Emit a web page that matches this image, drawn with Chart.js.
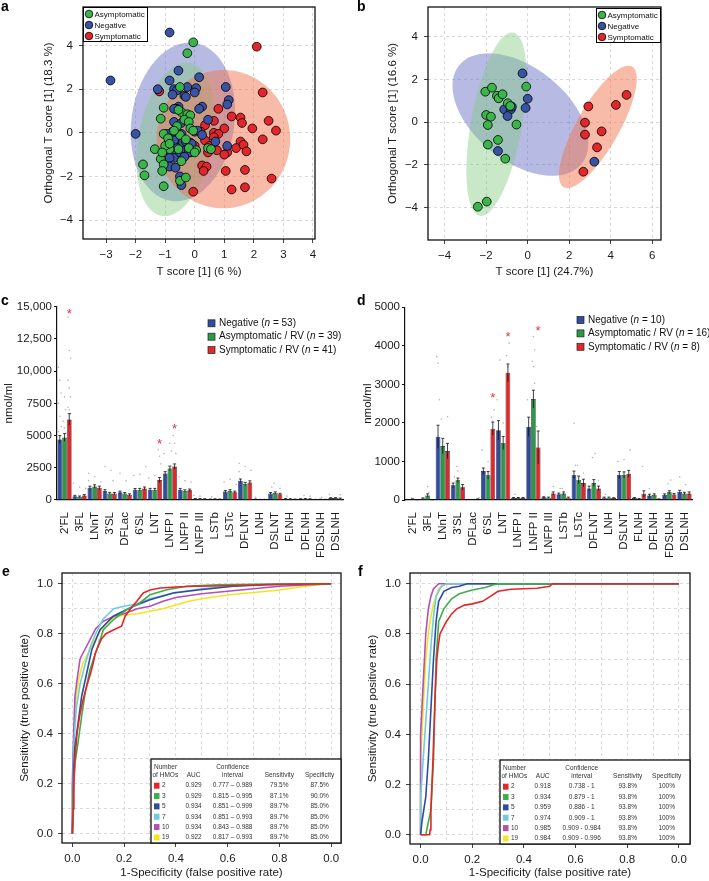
<!DOCTYPE html>
<html>
<head>
<meta charset="utf-8">
<script src="https://cdn.jsdelivr.net/npm/chart.js@4.4.1/dist/chart.umd.min.js"></script>
<style>
  body { margin: 0; background: #fff; }
  #page { position: relative; width: 709px; height: 881px; overflow: hidden; background: #fff; }
  #page canvas { position: absolute; left: 0; top: 0; }
  .tag { position: absolute; font: bold 14px "Liberation Sans", Arial, sans-serif; color: #000; }
</style>
</head>
<body>
<div id="page">
  <canvas id="chartA" width="709" height="881"></canvas>
  <canvas id="chartB" width="709" height="881"></canvas>
  <canvas id="chartC" width="709" height="881"></canvas>
  <canvas id="chartD" width="709" height="881"></canvas>
  <canvas id="chartE" width="709" height="881"></canvas>
  <canvas id="chartF" width="709" height="881"></canvas>
  <div class="tag" style="left:1px;top:-2px">a</div>
  <div class="tag" style="left:357px;top:-2px">b</div>
  <div class="tag" style="left:1px;top:292px">c</div>
  <div class="tag" style="left:357px;top:292px">d</div>
  <div class="tag" style="left:2px;top:563px">e</div>
  <div class="tag" style="left:358px;top:563px">f</div>
</div>
<script>
const FONT = '"Liberation Sans", Arial, Helvetica, sans-serif';
Chart.defaults.font.family = FONT;
Chart.defaults.font.size = 11.5;
Chart.defaults.color = '#1a1a1a';
Chart.defaults.animation = false;
Chart.defaults.responsive = false;
Chart.defaults.plugins.legend.display = false;
Chart.defaults.plugins.tooltip.enabled = false;

// ---------- panel a : OPLS-DA scores (all) ----------
const groupNames = ['Asymptomatic', 'Negative', 'Symptomatic'];
const aAsym = [[-0.05,4.15],[-0.25,3.65],[-1.05,1.15],[-1.15,0.65],[-1.05,-0.05],[-1.35,-0.75],[-1.15,-1.2],[-1.05,-1.45],
  [-1.75,-1.45],[-1.7,-1.95],[-1.1,-1.75],[-1.05,-2.45],[-0.5,2.1],[-0.45,0.95],[-0.25,0.85],[-0.15,0.8],[-0.35,0.6],
  [-0.2,0.5],[-0.15,0.2],[-0.05,0.1],[-0.5,-0.1],[-0.9,-0.25],[-0.3,-0.3],[-0.55,-0.75],[-0.85,-0.75],[-1.0,-0.6],
  [0.05,-0.8],[0.45,-0.7],[0.55,-0.75],[-0.5,-2.2],[-0.3,-2.05],[-0.45,-1.3],[-0.2,-0.7],[0.0,-0.9],[-0.6,0.3],
  [-0.85,-0.5],[-0.55,1.05],[-0.7,0.1],[-1.1,-0.9]];
const aNeg = [[-0.85,4.6],[-2.85,2.4],[-2.0,-0.05],[-0.55,2.85],[-0.85,2.4],[0.15,2.55],[-0.25,2.1],[0.05,2.05],[-0.7,2.0],
  [-0.6,1.95],[-0.75,1.75],[-0.35,1.7],[-0.3,1.65],[0.0,1.85],[-1.25,2.0],[1.05,2.1],[1.15,1.5],[1.1,1.3],[0.25,1.2],
  [0.15,1.1],[-0.55,1.2],[-0.6,1.1],[-0.7,1.1],[0.45,0.6],[-0.7,0.5],[-0.45,0.45],[-0.75,0.05],[-0.55,0.0],[-0.45,-0.05],
  [-0.7,-0.35],[-0.4,-0.45],[-0.3,-0.4],[-0.15,-0.45],[-0.8,-0.65],[-0.6,-0.7],[-0.9,-0.8],[-0.65,-0.95],[-0.7,-1.15],
  [-0.85,-1.15],[-0.5,-0.9],[-0.3,-0.8],[-0.85,-1.55],[-0.65,-1.6],[-0.5,-2.0],[-0.45,-2.4],[0.7,-0.4],[1.1,-0.6],
  [-0.1,-0.5],[-0.2,-0.9],[0.1,0.1],[-0.35,-1.1],[0.25,-0.1],[-0.95,-0.05]];
const aSym = [[2.1,3.95],[2.3,1.85],[-1.2,1.9],[0.8,1.1],[1.25,0.75],[1.55,0.7],[1.6,0.45],[2.5,0.55],[2.75,0.1],[1.95,0.2],
  [1.0,0.2],[0.35,0.35],[0.65,0.55],[0.0,0.05],[0.2,0.05],[0.65,0.0],[0.8,-0.05],[0.35,-0.35],[0.65,-0.2],[-0.45,-0.55],
  [0.5,-0.6],[1.55,-0.4],[1.4,-0.7],[1.65,-0.55],[1.75,-0.85],[2.3,-0.3],[1.1,-0.9],[0.75,-0.8],[-0.15,-0.9],[0.0,-0.6],
  [0.25,-1.5],[0.4,-1.55],[0.3,-1.75],[1.05,-1.75],[1.7,-1.7],[2.6,-2.1],[1.25,-2.6],[1.7,-2.5],[-0.05,-2.7],[0.45,-0.9],[1.0,-1.0]];
// ellipses: centre x, centre y, conjugate half-axes (ux, uy) and (vx, vy), in score units
const aEllNeg = [-0.4, 0.5, 0.23, 3.64, 1.75, 0];
const aEllAsym = [-0.65, -0.3, 0.37, 3.52, 1.27, 0];
const aEllSym = [0.97, -0.29, 0, 3.17, 2.26, 0];

// ---------- panel b : OPLS-DA scores (subset) ----------
const bAsym = [[-2.04,1.42],[-1.72,1.61],[-1.48,1.23],[-1.4,1.11],[-1.21,1.3],[-0.96,0.88],[-0.84,0.75],[-2.0,0.33],
  [-1.77,0.25],[-1.92,-0.14],[-0.54,-0.12],[-0.07,1.66],[-1.43,-0.84],[-1.92,-1.06],[-1.08,-1.72],[-2.4,-3.97],[-1.97,-3.73]];
const bNeg = [[-0.25,2.28],[0.0,1.09],[-0.1,0.66],[-1.13,0.59],[-0.81,0.59],[-0.97,0.28],[-0.76,0.72],[-1.43,-1.36],[3.21,-1.86]];
const bSym = [[2.76,-0.03],[2.92,0.73],[2.76,-0.59],[3.56,-0.44],[3.34,-1.19],[4.25,0.8],[4.76,1.27],[2.68,-2.33]];
const bEllNeg = [-0.35, 0.35, -1.53, 2.87, 2.89, 0];
const bEllAsym = [-1.5, -0.1, 0.74, 4.3, 1.25, 0];
const bEllSym = [3.38, -0.23, 1.47, 2.87, 1.16, 0];

// ---------- panels c, d : HMO concentrations ----------
const hmoNames = ["2'FL","3FL","LNnT","3'SL","DFLac","6'SL","LNT","LNFP I","LNFP II","LNFP III","LSTb","LSTc",
  "DFLNT","LNH","DSLNT","FLNH","DFLNH","FDSLNH","DSLNH"];
const barSeries = ['Negative', 'Asymptomatic / RV', 'Symptomatic / RV'];
const cCounts = [53, 39, 41];
const cNeg  = [4700, 300, 950, 700, 600, 800, 800, 2050, 800, 100, 60, 650, 1500, 60, 500, 100, 80, 40, 150];
const cAsym = [4850, 250, 1050, 500, 500, 800, 800, 2450, 700, 100, 80, 700, 1250, 40, 550, 80, 100, 50, 150];
const cSym  = [6250, 350, 950, 500, 400, 900, 1550, 2600, 750, 80, 60, 600, 1350, 40, 450, 60, 80, 40, 120];
const cNegErr  = [300, 60, 120, 100, 90, 90, 100, 150, 100, 20, 15, 90, 130, 15, 80, 20, 20, 10, 30];
const cAsymErr = [300, 60, 130, 90, 80, 100, 100, 180, 90, 20, 15, 100, 120, 10, 80, 20, 20, 10, 30];
const cSymErr  = [450, 80, 130, 90, 80, 110, 200, 200, 100, 20, 15, 90, 140, 10, 70, 15, 20, 10, 30];
const cTickLabels = ['0', '2500', '5000', '7500', '10,000', '12,500', '15,000'];
const cStarNames = ["2'FL", 'LNT', 'LNFP I'];
const cStarVals = [14600, 4520, 5740];
// individual samples visible above the bars: [category index, group index, nmol/ml]
const cDots = [[0,0,10300],[0,0,9300],[0,0,8300],[0,0,7500],[0,0,6500],[0,0,5700],[0,0,5300],[0,1,8000],[0,1,7000],
  [0,1,6100],[0,1,5600],[0,1,5200],[0,2,14200],[0,2,11600],[0,2,11000],[0,2,9300],[0,2,8700],[0,2,8000],[0,2,7200],
  [0,2,7000],[0,2,6700],[1,0,1300],[1,1,1000],[1,2,900],[2,0,2070],[2,1,1800],[2,2,1400],[2,0,1500],[3,0,2600],[3,1,2300],
  [3,2,1500],[4,0,2070],[4,1,1500],[5,0,1900],[5,1,2000],[5,2,2600],[6,0,1700],[6,1,1900],[6,2,4400],[6,2,3900],
  [6,2,3400],[6,2,2800],[7,0,3600],[7,1,4400],[7,1,3800],[7,2,5000],[7,2,4400],[7,2,3600],[8,0,1800],[8,1,1500],
  [8,2,1400],[9,0,350],[9,1,300],[10,0,250],[11,0,1400],[11,1,1600],[11,2,1200],[12,0,2850],[12,1,2600],[12,2,2300],
  [12,0,2200],[13,0,200],[14,0,1000],[14,1,1300],[14,2,900],[15,0,300],[16,1,350],[16,2,300],[17,1,200],[18,0,450],[18,2,400]];

const dCounts = [10, 16, 8];
const dNeg  = [10, 40, 1640, 380, 10, 750, 1810, 50, 1900, 70, 150, 650, 300, 60, 650, 50, 120, 130, 210];
const dAsym = [20, 120, 1400, 510, 10, 640, 1480, 50, 2620, 60, 170, 520, 440, 60, 650, 30, 130, 200, 170];
const dSym  = [5, 5, 1270, 330, 20, 1850, 3300, 50, 1360, 170, 60, 440, 300, 50, 680, 160, 20, 140, 170];
const dNegErr  = [5, 15, 300, 60, 5, 80, 250, 15, 250, 15, 30, 100, 60, 15, 90, 15, 30, 30, 40];
const dAsymErr = [10, 40, 200, 60, 5, 100, 170, 15, 230, 15, 40, 100, 90, 15, 80, 10, 30, 40, 30];
const dSymErr  = [3, 3, 200, 70, 10, 170, 230, 15, 430, 40, 15, 100, 60, 10, 90, 80, 10, 30, 40];
const dStarNames = ["6'SL", 'LNT', 'LNFP II'];
const dStarVals = [2720, 4300, 4440];
const dDots = [[0,1,60],[1,1,350],[1,1,200],[2,0,3720],[2,0,3550],[2,0,2600],[2,1,2100],[2,2,2160],[3,0,600],[3,1,870],
  [3,1,750],[4,2,60],[5,0,1300],[5,1,1000],[5,2,2340],[5,2,2150],[5,2,2050],[6,0,3630],[6,0,2600],[6,1,2000],[6,2,4070],
  [6,2,3750],[6,2,3460],[7,0,150],[8,0,2600],[8,1,4240],[8,1,3900],[8,1,3600],[8,1,3460],[8,1,3030],[8,2,1900],[9,2,350],
  [10,0,300],[10,1,300],[11,0,1990],[11,0,900],[11,1,900],[11,2,700],[12,1,1210],[12,1,1100],[12,2,500],[13,0,150],
  [14,0,1000],[14,1,1050],[14,2,1300],[15,2,870],[16,0,300],[17,1,520],[17,1,420],[18,0,600],[18,1,400]];

// ---------- panels e, f : ROC curves ----------
const hmoCounts = ['2', '3', '5', '7', '10', '19'];
const rocColors = ['#e5252a', '#3fae49', '#2f4da0', '#6fcbe0', '#b44fb4', '#f2e61c'];
const rocXLabels = ['0.0', '0.2', '0.4', '0.6', '0.8', '0.0'];
const rocYLabels = ['0.0', '0.2', '0.4', '0.6', '0.8', '1.0'];

const rocE2 = [[0,0],[0.004,0.1],[0.006,0.2],[0.01,0.3],[0.018,0.4],[0.028,0.47],[0.04,0.53],[0.05,0.57],[0.058,0.6],
  [0.07,0.64],[0.08,0.68],[0.088,0.72],[0.1,0.75],[0.113,0.78],[0.13,0.8],[0.158,0.815],[0.19,0.83],[0.204,0.87],
  [0.225,0.9],[0.249,0.93],[0.274,0.963],[0.3,0.975],[0.339,0.983],[0.4,0.987],[0.47,0.99],[0.6,0.992],[0.7,0.995],[0.8,0.998],[1,1]];
const rocE3 = [[0,0],[0.005,0.2],[0.01,0.28],[0.02,0.35],[0.036,0.47],[0.049,0.56],[0.068,0.656],[0.094,0.736],[0.12,0.816],
  [0.158,0.856],[0.21,0.896],[0.26,0.923],[0.3,0.956],[0.365,0.976],[0.44,0.99],[0.56,0.996],[0.7,0.998],[1,1]];
const rocE5 = [[0,0],[0.005,0.25],[0.01,0.35],[0.023,0.45],[0.036,0.55],[0.055,0.64],[0.075,0.736],[0.107,0.816],[0.158,0.87],
  [0.236,0.91],[0.3,0.936],[0.39,0.963],[0.494,0.976],[0.622,0.99],[0.75,0.996],[1,1]];
const rocE7 = [[0,0],[0.005,0.35],[0.015,0.5],[0.03,0.6],[0.05,0.68],[0.07,0.75],[0.09,0.8],[0.12,0.86],[0.16,0.9],[0.2,0.91],
  [0.25,0.92],[0.3,0.94],[0.4,0.965],[0.5,0.98],[0.6,0.99],[0.75,0.998],[1,1]];
const rocE10 = [[0,0],[0,0.2],[0.005,0.4],[0.01,0.55],[0.02,0.63],[0.03,0.7],[0.05,0.74],[0.07,0.78],[0.09,0.82],[0.12,0.85],
  [0.16,0.87],[0.2,0.88],[0.25,0.9],[0.3,0.91],[0.35,0.93],[0.4,0.945],[0.5,0.96],[0.6,0.97],[0.7,0.98],[0.8,0.99],[0.9,0.995],[1,1]];
const rocE19 = [[0,0],[0,0.1],[0.003,0.3],[0.008,0.45],[0.015,0.55],[0.025,0.62],[0.04,0.68],[0.06,0.72],[0.08,0.76],[0.1,0.8],
  [0.13,0.84],[0.16,0.865],[0.2,0.875],[0.25,0.88],[0.3,0.89],[0.35,0.9],[0.4,0.915],[0.45,0.93],[0.5,0.94],[0.6,0.955],
  [0.7,0.965],[0.8,0.975],[0.9,0.99],[1,1]];
const aucE = ['0.929', '0.929', '0.934', '0.934', '0.934', '0.922'];
const ciE = ['0.777 \u2013 0.989', '0.815 \u2013 0.995', '0.851 \u2013 0.999', '0.851 \u2013 0.993', '0.843 \u2013 0.988', '0.817 \u2013 0.993'];
const sensE = ['79.5%', '87.1%', '89.7%', '89.7%', '89.7%', '89.7%'];
const specE = ['87.5%', '90.0%', '85.0%', '85.0%', '85.0%', '85.0%'];

const rocF2 = [[0,0],[0.035,0],[0.037,0.02],[0.04,0.1],[0.048,0.3],[0.056,0.55],[0.063,0.7],[0.068,0.75],[0.075,0.8],
  [0.085,0.82],[0.1,0.85],[0.12,0.88],[0.14,0.9],[0.17,0.915],[0.2,0.92],[0.24,0.93],[0.27,0.95],[0.3,0.97],[0.35,0.978],
  [0.45,0.982],[0.5,0.99],[0.51,1],[1,1]];
const rocF3 = [[0,0],[0.02,0],[0.03,0.05],[0.04,0.1],[0.05,0.3],[0.055,0.5],[0.06,0.7],[0.07,0.85],[0.09,0.9],[0.12,0.94],
  [0.15,0.96],[0.2,0.975],[0.25,0.985],[0.28,0.995],[0.3,1],[1,1]];
const rocF5 = [[0,0],[0.005,0.05],[0.02,0.15],[0.03,0.3],[0.04,0.5],[0.05,0.7],[0.06,0.85],[0.07,0.93],[0.09,0.97],[0.12,0.985],
  [0.15,0.99],[0.18,1],[1,1]];
const rocF7 = [[0,0],[0,0.15],[0.01,0.3],[0.02,0.45],[0.03,0.6],[0.04,0.75],[0.05,0.87],[0.06,0.95],[0.08,0.99],[0.1,1],[1,1]];
const rocF10 = [[0,0],[0,0.4],[0.01,0.6],[0.02,0.8],[0.03,0.9],[0.04,0.95],[0.05,0.98],[0.06,0.99],[0.07,1],[1,1]];
const rocF19 = [[0,0],[0,0.3],[0.01,0.5],[0.02,0.7],[0.03,0.8],[0.04,0.87],[0.05,0.92],[0.06,0.95],[0.07,0.98],[0.09,0.995],[0.1,1],[1,1]];
const aucF = ['0.918', '0.934', '0.959', '0.974', '0.985', '0.984'];
const ciF = ['0.738 - 1', '0.879 - 1', '0.886 - 1', '0.909 - 1', '0.909 - 0.984', '0.909 - 0.996'];
const sensF = ['93.8%', '93.8%', '93.8%', '93.8%', '93.8%', '93.8%'];
const specF = ['100%', '100%', '100%', '100%', '100%', '100%'];

// ---------- helpers ----------
const groupColors = ['#3bb44a', '#3953a4', '#e2262b'];
const ellColors = ['rgba(125,200,125,0.42)', 'rgba(95,105,195,0.45)', 'rgba(240,120,80,0.5)'];
const barColors = ['#2f4c9e', '#2a9a49', '#e0292d'];

function pad(L, T, R, B, yw, xh) {
  return { left: L - yw, top: T, right: 709 - R, bottom: 881 - B - xh };
}
// fix an axis box to a given size and drop the label overhang padding, so the plot area lands where we want it
function fixW(w) { return s => { s.width = w; s.paddingTop = 0; s.paddingBottom = 0; }; }
function fixH(h) { return s => { s.height = h; s.paddingLeft = 0; s.paddingRight = 0; }; }
const minus = s => String(s).replace('-', '\u2212');
const pts = arr => arr.map(p => ({ x: p[0], y: p[1] }));

const boxPlugin = {
  id: 'box',
  afterDraw(chart) {
    const a = chart.chartArea, ctx = chart.ctx;
    ctx.save();
    ctx.strokeStyle = '#111';
    ctx.lineWidth = 1.3;
    ctx.strokeRect(a.left, a.top, a.right - a.left, a.bottom - a.top);
    ctx.restore();
  }
};

function ellipsePlugin(list) {
  return {
    id: 'ellipses',
    beforeDatasetsDraw(chart) {
      const ctx = chart.ctx, xs = chart.scales.x, ys = chart.scales.y, a = chart.chartArea;
      ctx.save();
      ctx.beginPath();
      ctx.rect(a.left, a.top, a.right - a.left, a.bottom - a.top);
      ctx.clip();
      list.forEach(item => {
        const e = item.ell;
        ctx.beginPath();
        for (let k = 0; k <= 120; k++) {
          const t = k / 120 * Math.PI * 2;
          const x = e[0] + e[2] * Math.sin(t) + e[4] * Math.cos(t);
          const y = e[1] + e[3] * Math.sin(t) + e[5] * Math.cos(t);
          const px = xs.getPixelForValue(x), py = ys.getPixelForValue(y);
          if (k === 0) ctx.moveTo(px, py); else ctx.lineTo(px, py);
        }
        ctx.closePath();
        ctx.fillStyle = item.color;
        ctx.fill();
      });
      ctx.restore();
    }
  };
}

function scatterLegend(side) {
  return {
    id: 'slegend',
    afterDraw(chart) {
      const ctx = chart.ctx, a = chart.chartArea;
      const w = 65, h = 35;
      const x0 = side === 'left' ? a.left : a.right - w;
      const y0 = a.top + (side === 'left' ? 0 : 1);
      ctx.save();
      ctx.fillStyle = '#fff';
      ctx.fillRect(x0, y0, w, h);
      ctx.strokeStyle = '#000';
      ctx.lineWidth = 1;
      ctx.strokeRect(x0 + 0.5, y0 + 0.5, w - 1, h - 1);
      ctx.font = '8px ' + FONT;
      ctx.textBaseline = 'middle';
      chart.data.datasets.forEach((ds, i) => {
        const cy = y0 + 7 + i * 11;
        ctx.beginPath();
        ctx.arc(x0 + 6, cy, 3.8, 0, Math.PI * 2);
        ctx.fillStyle = ds.backgroundColor;
        ctx.fill();
        ctx.strokeStyle = '#000';
        ctx.lineWidth = 0.8;
        ctx.stroke();
        ctx.fillStyle = '#111';
        ctx.fillText(ds.label, x0 + 11.5, cy + 0.5);
      });
      ctx.restore();
    }
  };
}

function barExtras(errs, dots, starNames, starVals, counts, legendX, legendY) {
  return {
    id: 'barx',
    beforeDatasetsDraw(chart) {
      // faint sample dots, jittered a little around each bar centre
      const ctx = chart.ctx, ys = chart.scales.y;
      ctx.save();
      ctx.fillStyle = 'rgba(120,120,120,0.55)';
      dots.forEach((d, k) => {
        const bar = chart.getDatasetMeta(d[1]).data[d[0]];
        const off = ((k % 3) - 1) * 1.3;
        ctx.beginPath();
        ctx.arc(bar.x + off, ys.getPixelForValue(d[2]), 0.8, 0, Math.PI * 2);
        ctx.fill();
      });
      ctx.restore();
    },
    afterDatasetsDraw(chart) {
      const ctx = chart.ctx, ys = chart.scales.y;
      ctx.save();
      ctx.strokeStyle = '#111';
      ctx.lineWidth = 0.8;
      chart.data.datasets.forEach((ds, di) => {
        chart.getDatasetMeta(di).data.forEach((bar, i) => {
          const v = ds.data[i], e = errs[di][i];
          const yt = ys.getPixelForValue(v + e), yb = ys.getPixelForValue(Math.max(v - e, 0));
          ctx.beginPath();
          ctx.moveTo(bar.x, yb); ctx.lineTo(bar.x, yt);
          ctx.moveTo(bar.x - 1.5, yt); ctx.lineTo(bar.x + 1.5, yt);
          ctx.stroke();
        });
      });
      // significance stars over the symptomatic bars
      ctx.fillStyle = '#e8343a';
      ctx.font = '13px ' + FONT;
      ctx.textAlign = 'center';
      ctx.textBaseline = 'middle';
      const symMeta = chart.getDatasetMeta(2);
      starNames.forEach((name, k) => {
        const i = chart.data.labels.indexOf(name);
        ctx.fillText('*', symMeta.data[i].x, ys.getPixelForValue(starVals[k]) + 3);
      });
      // legend
      ctx.textAlign = 'left';
      chart.data.datasets.forEach((ds, i) => {
        const cy = legendY + i * 13.4;
        ctx.fillStyle = ds.backgroundColor;
        ctx.fillRect(legendX, cy - 3.5, 7, 7);
        ctx.strokeStyle = '#222';
        ctx.lineWidth = 0.7;
        ctx.strokeRect(legendX, cy - 3.5, 7, 7);
        ctx.fillStyle = '#111';
        let x = legendX + 11;
        const parts = [[ds.label + ' (', ''], ['n', 'italic '], [' = ' + counts[i] + ')', '']];
        parts.forEach(p => {
          ctx.font = p[1] + '10px ' + FONT;
          ctx.fillText(p[0], x, cy);
          x += ctx.measureText(p[0]).width;
        });
      });
      ctx.restore();
    }
  };
}

function rocTable(auc, ci, sens, spec, cols) {
  return {
    id: 'roctable',
    afterDraw(chart) {
      const ctx = chart.ctx, a = chart.chartArea;
      const w = 190, h = 84;
      const x0 = a.right - w, y0 = a.bottom - h;
      ctx.save();
      ctx.fillStyle = '#fff';
      ctx.fillRect(x0, y0, w, h);
      ctx.strokeStyle = '#111';
      ctx.lineWidth = 1.3;
      ctx.strokeRect(x0, y0, w, h);
      ctx.font = '6.5px ' + FONT;
      ctx.fillStyle = '#333';
      ctx.textBaseline = 'middle';
      ctx.textAlign = 'left';
      ctx.fillText('Number', x0 + 3, y0 + 8);
      ctx.fillText('of HMOs', x0 + 1.5, y0 + 16.5);
      ctx.textAlign = 'center';
      ctx.fillText('AUC', x0 + cols[0], y0 + 16.5);
      ctx.fillText('Confidence', x0 + cols[1], y0 + 8);
      ctx.fillText('interval', x0 + cols[1], y0 + 16.5);
      ctx.fillText('Sensitivity', x0 + cols[2], y0 + 16.5);
      ctx.fillText('Specificity', x0 + cols[3], y0 + 16.5);
      hmoCounts.forEach((n, i) => {
        const cy = y0 + 26.7 + i * 10.34;
        ctx.fillStyle = rocColors[i];
        ctx.fillRect(x0 + 3, cy - 3, 5.5, 6);
        ctx.fillStyle = '#333';
        ctx.textAlign = 'left';
        ctx.fillText(n, x0 + 11, cy);
        ctx.textAlign = 'center';
        ctx.fillText(auc[i], x0 + cols[0], cy);
        ctx.fillText(ci[i], x0 + cols[1], cy);
        ctx.fillText(sens[i], x0 + cols[2], cy);
        ctx.fillText(spec[i], x0 + cols[3], cy);
      });
      ctx.restore();
    }
  };
}

// ---------- scatter panels ----------
function scoreChart(id, groups, ells, box, xr, yr, xStep, xTitle, yTitle, yTitlePad, legendSide) {
  const [L, T, R, B, yw, xh] = box;
  return new Chart(document.getElementById(id), {
    type: 'scatter',
    data: {
      datasets: groups.map((g, i) => ({
        label: groupNames[i],
        data: pts(g),
        backgroundColor: groupColors[i],
        borderColor: '#000',
        borderWidth: 0.8,
        pointRadius: 4.4
      }))
    },
    options: {
      layout: { padding: pad(L, T, R, B, yw, xh) },
      scales: {
        x: {
          type: 'linear', min: xr[0], max: xr[1],
          afterFit: fixH(xh),
          ticks: { stepSize: xStep, includeBounds: false, padding: 5, color: '#1a1a1a', callback: v => minus(v) },
          grid: { color: '#cfcfcf', lineWidth: 0.8, tickColor: '#111', tickLength: 4 },
          border: { display: false, dash: [3, 3] },
          title: { display: true, text: xTitle, color: '#1a1a1a', padding: { top: 0, bottom: 1 } }
        },
        y: {
          type: 'linear', min: yr[0], max: yr[1],
          afterFit: fixW(yw),
          ticks: { stepSize: 2, includeBounds: false, padding: 6, color: '#1a1a1a', callback: v => minus(v) },
          grid: { color: '#cfcfcf', lineWidth: 0.8, tickColor: '#111', tickLength: 4 },
          border: { display: false, dash: [3, 3] },
          title: { display: true, text: yTitle, color: '#1a1a1a', padding: { top: yTitlePad, bottom: 0 } }
        }
      }
    },
    plugins: [ellipsePlugin(ells), boxPlugin, scatterLegend(legendSide)]
  });
}

scoreChart('chartA', [aAsym, aNeg, aSym],
  [{ ell: aEllNeg, color: ellColors[1] }, { ell: aEllAsym, color: ellColors[0] }, { ell: aEllSym, color: ellColors[2] }],
  [83, 7, 315, 239, 45, 41], [-3.78, 4.07], [-4.87, 5.77], 1,
  'T score [1] (6 %)', 'Orthogonal T score [1] (18.3 %)', 4, 'left');

scoreChart('chartB', [bAsym, bNeg, bSym],
  [{ ell: bEllNeg, color: ellColors[1] }, { ell: bEllAsym, color: ellColors[0] }, { ell: bEllSym, color: ellColors[2] }],
  [428, 7, 661, 240, 46, 40], [-4.8, 6.42], [-5.53, 5.39], 2,
  'T score [1] (24.7%)', 'Orthogonal T score [1] (16.6 %)', 4, 'right');

// ---------- bar panels ----------
function hmoChart(id, series, errs, dots, box, yMax, yStep, tickLabels, yTitlePad, stars, counts, legendPos) {
  const [L, T, R, B, yw, xh] = box;
  return new Chart(document.getElementById(id), {
    type: 'bar',
    data: {
      labels: hmoNames,
      datasets: series.map((s, i) => ({
        label: barSeries[i],
        data: s,
        backgroundColor: barColors[i],
        borderColor: '#1a1a1a',
        borderWidth: 0.6,
        categoryPercentage: 0.94,
        barPercentage: 1
      }))
    },
    options: {
      layout: { padding: pad(L, T, R, B, yw, xh) },
      scales: {
        x: {
          afterFit: fixH(xh),
          ticks: { autoSkip: false, minRotation: 90, maxRotation: 90, padding: 4, color: '#1a1a1a' },
          grid: { display: false },
          border: { display: true, color: '#111', width: 1.2 }
        },
        y: {
          min: 0, max: yMax,
          afterFit: fixW(yw),
          ticks: { stepSize: yStep, padding: 2, color: '#1a1a1a', callback: (v, i) => tickLabels[i] },
          grid: { drawOnChartArea: false, tickLength: 3, tickColor: '#111' },
          border: { display: true, color: '#111', width: 1.2 },
          title: { display: true, text: 'nmol/ml', color: '#1a1a1a', padding: { top: yTitlePad, bottom: 0 } }
        }
      }
    },
    plugins: [barExtras(errs, dots, stars[0], stars[1], counts, legendPos[0], legendPos[1])]
  });
}

hmoChart('chartC', [cNeg, cAsym, cSym], [cNegErr, cAsymErr, cSymErr], cDots,
  [57, 306.7, 343, 500, 57, 70], 15000, 2500, cTickLabels, 1.6,
  [cStarNames, cStarVals], cCounts, [208, 323.3]);

hmoChart('chartD', [dNeg, dAsym, dSym], [dNegErr, dAsymErr, dSymErr], dDots,
  [405, 307.3, 692, 500, 45, 70], 5000, 1000, ['0', '1000', '2000', '3000', '4000', '5000'], 1.4,
  [dStarNames, dStarVals], dCounts, [577, 320]);

// ---------- ROC panels ----------
function rocChart(id, curves, box, xr, yr, table) {
  const [L, T, R, B, yw, xh] = box;
  const even = v => Math.round(v * 10) % 2 === 0;
  return new Chart(document.getElementById(id), {
    type: 'line',
    data: {
      datasets: curves.map((c, i) => ({
        label: hmoCounts[i],
        data: pts(c),
        borderColor: rocColors[i],
        borderWidth: 1.6,
        pointRadius: 0,
        tension: 0,
        fill: false
      }))
    },
    options: {
      layout: { padding: pad(L, T, R, B, yw, xh) },
      scales: {
        x: {
          type: 'linear', min: xr[0], max: xr[1],
          afterFit: fixH(xh),
          ticks: { stepSize: 0.1, includeBounds: false, padding: 4.5, color: '#1a1a1a', autoSkip: false, maxRotation: 0,
            callback: v => even(v) ? rocXLabels[Math.round(v * 5)] : '' },
          grid: { color: '#d2d2d2', lineWidth: 0.8, tickLength: 4,
            tickColor: c => even(c.tick.value) ? '#111' : 'rgba(0,0,0,0)' },
          border: { display: false, dash: [3, 3] },
          title: { display: true, text: '1-Specificity (false positive rate)', color: '#1a1a1a', padding: { top: 0, bottom: 1 } }
        },
        y: {
          type: 'linear', min: yr[0], max: yr[1],
          afterFit: fixW(yw),
          ticks: { stepSize: 0.1, includeBounds: false, padding: 5, color: '#1a1a1a', autoSkip: false,
            callback: v => even(v) ? rocYLabels[Math.round(v * 5)] : '' },
          grid: { color: '#d2d2d2', lineWidth: 0.8, tickLength: 4,
            tickColor: c => even(c.tick.value) ? '#111' : 'rgba(0,0,0,0)' },
          border: { display: false, dash: [3, 3] },
          title: { display: true, text: 'Sensitivity (true positive rate)', color: '#1a1a1a', padding: { top: 8, bottom: 0 } }
        }
      }
    },
    plugins: [boxPlugin, table]
  });
}

rocChart('chartE', [rocE2, rocE3, rocE5, rocE7, rocE10, rocE19],
  [62, 573, 341, 843, 52, 38], [-0.04, 1.038], [-0.037, 1.043],
  rocTable(aucE, ciE, sensE, specE, [42.6, 81.6, 128.3, 168.6]));

rocChart('chartF', [rocF2, rocF3, rocF5, rocF7, rocF10, rocF19],
  [410, 573, 690, 844, 52, 37], [-0.041, 1.043], [-0.037, 1.043],
  rocTable(aucF, ciF, sensF, specF, [42.7, 81.7, 127.7, 166.7]));
</script>
</body>
</html>
